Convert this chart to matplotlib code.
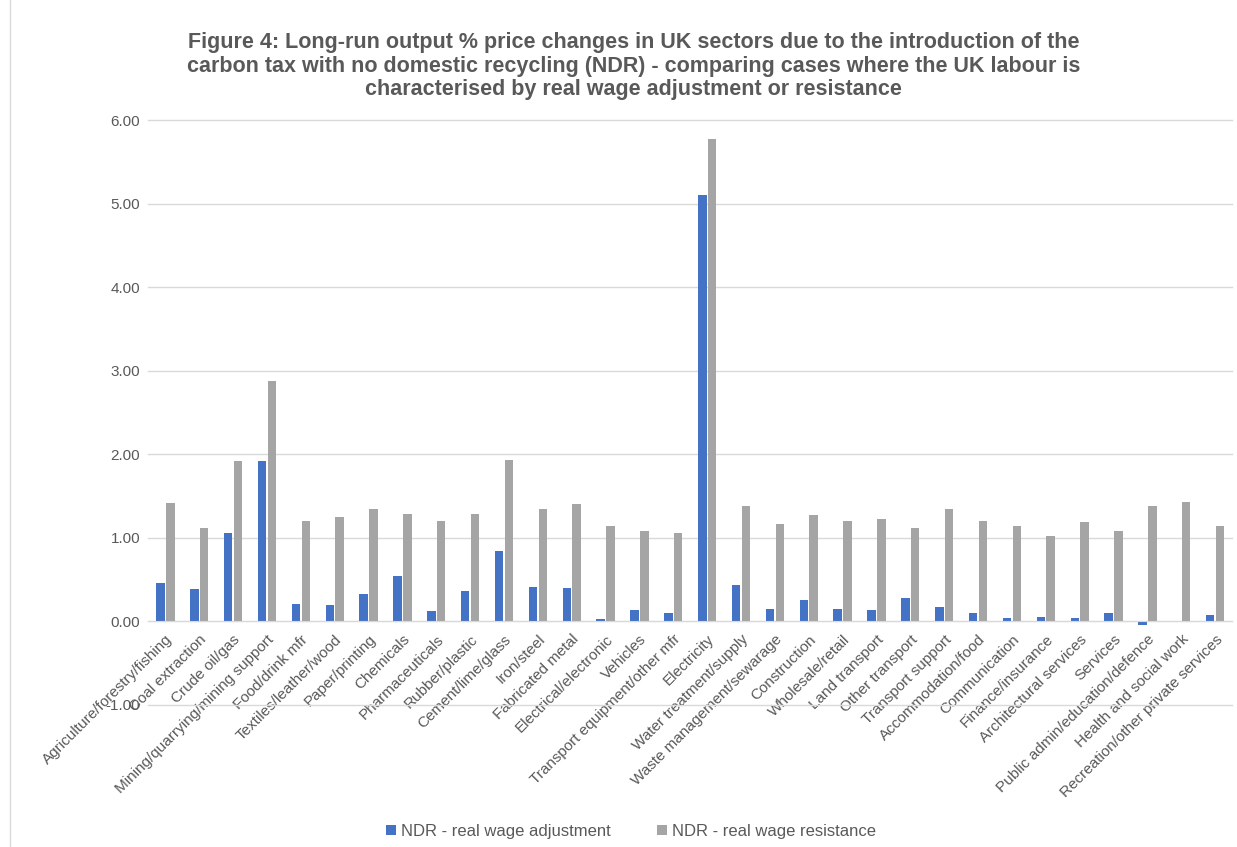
import matplotlib.pyplot as plt
from matplotlib.lines import Line2D
import numpy as np

plt.rcParams['font.family'] = ['Liberation Sans', 'DejaVu Sans']

# ===== data =====
sectors = [
    "Agriculture/forestry/fishing", "Coal extraction", "Crude oil/gas",
    "Mining/quarrying/mining support", "Food/drink mfr", "Textiles/leather/wood",
    "Paper/printing", "Chemicals", "Pharmaceuticals", "Rubber/plastic",
    "Cement/lime/glass", "Iron/steel", "Fabricated metal", "Electrical/electronic",
    "Vehicles", "Transport equipment/other mfr", "Electricity",
    "Water treatment/supply", "Waste management/sewarage", "Construction",
    "Wholesale/retail", "Land transport", "Other transport", "Transport support",
    "Accommodation/food", "Communication", "Finance/insurance",
    "Architectural services", "Services", "Public admin/education/defence",
    "Health and social work", "Recreation/other private services",
]
wage_adjustment = [
    0.46, 0.39, 1.06, 1.92, 0.21, 0.20, 0.32, 0.54, 0.12, 0.36,
    0.84, 0.41, 0.40, 0.03, 0.14, 0.10, 5.11, 0.43, 0.15, 0.25,
    0.15, 0.14, 0.28, 0.17, 0.10, 0.04, 0.05, 0.04, 0.10, -0.04,
    0.00, 0.07,
]
wage_resistance = [
    1.42, 1.12, 1.92, 2.88, 1.20, 1.25, 1.35, 1.28, 1.20, 1.29,
    1.93, 1.34, 1.40, 1.14, 1.08, 1.06, 5.77, 1.38, 1.16, 1.27,
    1.20, 1.22, 1.12, 1.35, 1.20, 1.14, 1.02, 1.19, 1.08, 1.38,
    1.43, 1.14,
]
series_names = ["NDR - real wage adjustment", "NDR - real wage resistance"]
yticks = [-1, 0, 1, 2, 3, 4, 5, 6]

text_col = "#595959"
grid_col = "#d9d9d9"

fig = plt.figure(figsize=(12.37, 8.47), dpi=100)
ax = fig.add_axes([0.12, 0.168, 0.876, 0.69])

x = np.arange(len(sectors))
w = 0.25
ax.bar(x - 0.145, wage_adjustment, width=w, color="#4472c4", label=series_names[0], zorder=3)
ax.bar(x + 0.145, wage_resistance, width=w, color="#a5a5a5", label=series_names[1], zorder=3)

ax.set_xlim(-0.5, len(sectors) - 0.5)
ax.set_ylim(-1, 6)
ax.set_yticks(yticks)
ax.set_yticklabels([f"{v:.2f}" for v in yticks])
ax.grid(axis="y", color=grid_col, linewidth=1, zorder=0)
for gl in ax.get_ygridlines():
    gl.set_clip_on(False)

for s in ["top", "right", "left"]:
    ax.spines[s].set_visible(False)
ax.spines["bottom"].set_position(("data", 0))
ax.spines["bottom"].set_color(grid_col)
ax.spines["bottom"].set_zorder(4)

ax.set_xticks(x)
ax.set_xticklabels(sectors, rotation=45, ha="right", rotation_mode="anchor")
ax.tick_params(axis="x", length=0, pad=8, labelsize=11, labelcolor=text_col)
ax.tick_params(axis="y", length=0, pad=6, labelsize=11, labelcolor=text_col)

fig.suptitle(
    "Figure 4: Long-run output % price changes in UK sectors due to the introduction of the\n"
    "carbon tax with no domestic recycling (NDR) - comparing cases where the UK labour is\n"
    "characterised by real wage adjustment or resistance",
    x=0.512, y=0.962, fontsize=15.5, fontweight="bold", color=text_col, linespacing=1.15,
)

fig.legend(
    loc="lower center", bbox_to_anchor=(0.51, -0.008), ncol=2, frameon=False,
    fontsize=12, handlelength=0.6, handleheight=0.6, handletextpad=0.3,
    columnspacing=2.8, labelcolor=text_col,
)

# thin frame line at the left edge
fig.add_artist(Line2D([10 / 1237, 10 / 1237], [0, 1], transform=fig.transFigure,
                      color=grid_col, linewidth=1))

fig.savefig("out.png", dpi=100)
plt.close()
